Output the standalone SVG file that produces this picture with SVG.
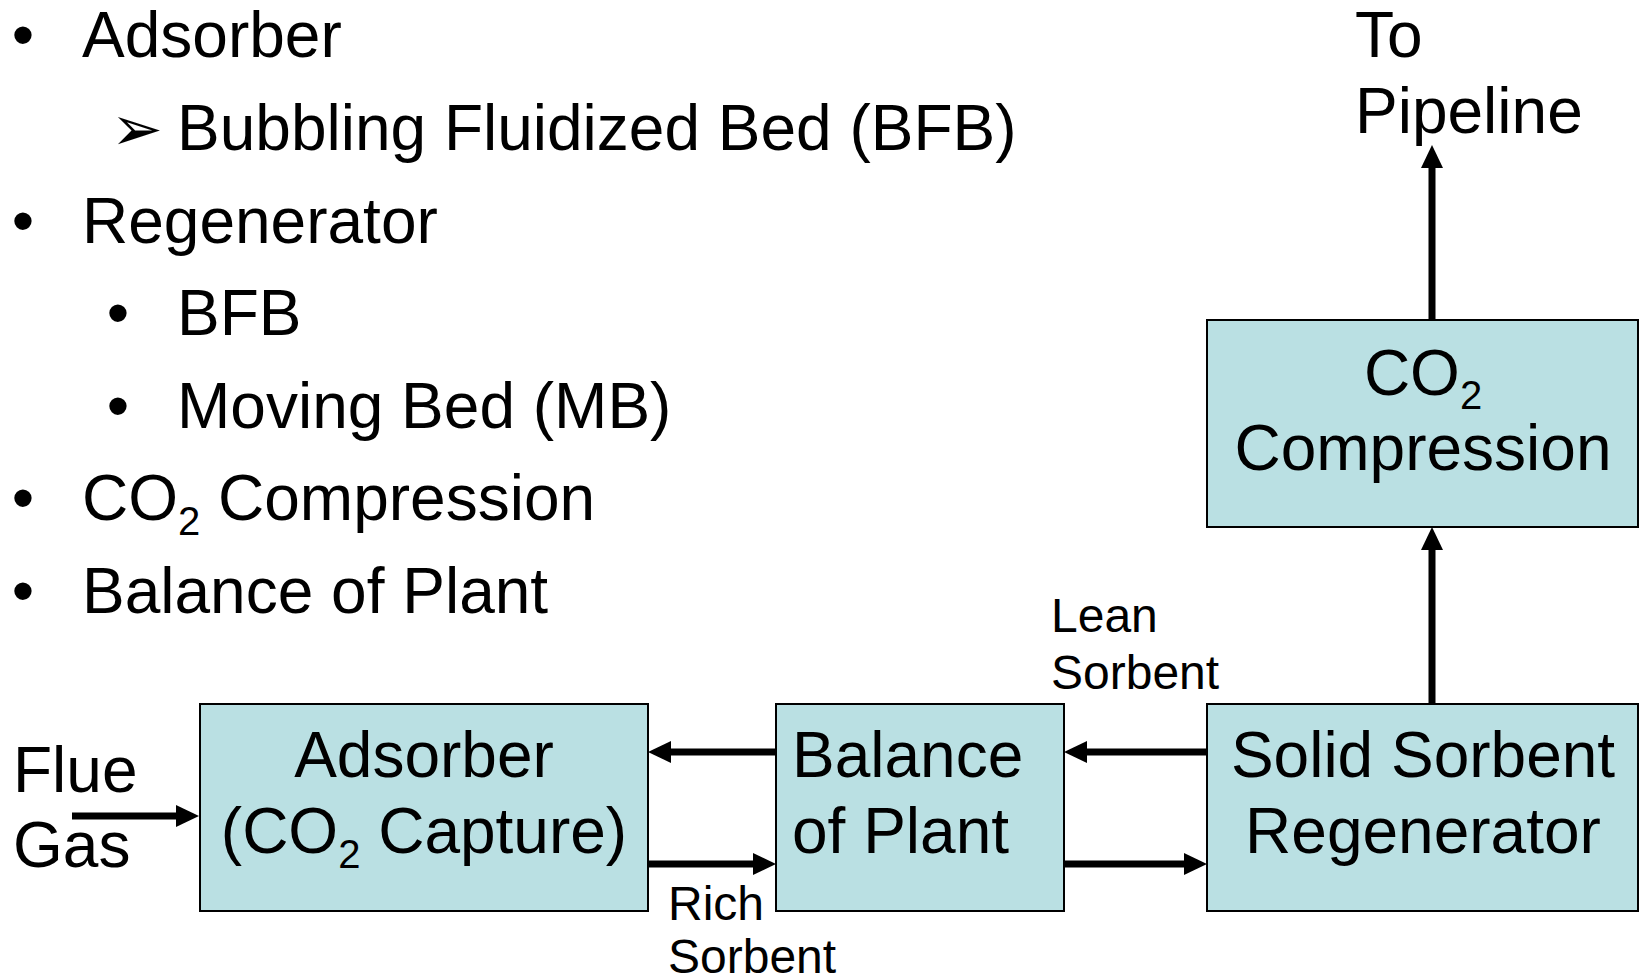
<svg xmlns="http://www.w3.org/2000/svg" width="1640" height="980" viewBox="0 0 1640 980">
  <style>
    text { font-family: "Liberation Sans", Arial, sans-serif; fill: #000; }
    .big { font-size: 64px; }
    .small { font-size: 48px; }
    .mid { text-anchor: middle; }
    .sub { font-size: 40px; }
    .box { fill: #BAE0E3; stroke: #000; stroke-width: 2; }
    .flow { fill: none; stroke: #000; stroke-width: 7; marker-end: url(#head); }
    .glyph { font-family: "DejaVu Sans", sans-serif; font-size: 62px; }
  </style>
  <defs>
    <marker id="head" markerUnits="userSpaceOnUse" markerWidth="24" markerHeight="22" refX="3" refY="11" orient="auto" overflow="visible">
      <path d="M0,0 L23,11 L0,22 Z" fill="#000"/>
    </marker>
  </defs>

  <rect width="1640" height="980" fill="#fff"/>

  <!-- bullet list -->
  <g id="outline">
    <text class="big mid" x="23" y="57">•</text>
    <text class="big" x="82" y="57">Adsorber</text>
    <text class="glyph" x="111" y="150">➢</text>
    <text class="big" x="177" y="150">Bubbling Fluidized Bed (BFB)</text>
    <text class="big mid" x="23" y="243">•</text>
    <text class="big" x="82" y="243">Regenerator</text>
    <text class="big mid" x="118" y="335">•</text>
    <text class="big" x="177" y="335">BFB</text>
    <text class="big mid" x="118" y="428">•</text>
    <text class="big" x="177" y="428">Moving Bed (MB)</text>
    <text class="big mid" x="23" y="520">•</text>
    <text class="big" x="82" y="520">CO<tspan class="sub" dy="15">2</tspan><tspan dy="-15"> Compression</tspan></text>
    <text class="big mid" x="23" y="613">•</text>
    <text class="big" x="82" y="613">Balance of Plant</text>
  </g>

  <!-- stream labels -->
  <g id="labels">
    <text class="big" x="13" y="792">Flue</text>
    <text class="big" x="13" y="867">Gas</text>
    <text class="small" x="1051" y="632">Lean</text>
    <text class="small" x="1051" y="689">Sorbent</text>
    <text class="small" x="668" y="920">Rich</text>
    <text class="small" x="668" y="973">Sorbent</text>
    <text class="big" x="1355" y="57">To</text>
    <text class="big" x="1355" y="133">Pipeline</text>
  </g>

  <!-- process blocks -->
  <g id="adsorber">
    <rect class="box" x="200" y="704" width="448" height="207"/>
    <text class="big mid" x="424" y="777">Adsorber</text>
    <text class="big mid" x="424" y="853">(CO<tspan class="sub" dy="15">2</tspan><tspan dy="-15"> Capture)</tspan></text>
  </g>
  <g id="balance-of-plant">
    <rect class="box" x="776" y="704" width="288" height="207"/>
    <text class="big" x="792" y="777">Balance</text>
    <text class="big" x="792" y="853">of Plant</text>
  </g>
  <g id="regenerator">
    <rect class="box" x="1207" y="704" width="431" height="207"/>
    <text class="big mid" x="1423" y="777">Solid Sorbent</text>
    <text class="big mid" x="1423" y="853">Regenerator</text>
  </g>
  <g id="co2-compression">
    <rect class="box" x="1207" y="320" width="431" height="207"/>
    <text class="big mid" x="1423" y="395">CO<tspan class="sub" dy="14">2</tspan></text>
    <text class="big mid" x="1423" y="470">Compression</text>
  </g>

  <!-- flow arrows -->
  <g id="connectors">
    <line class="flow" x1="72" y1="816" x2="179" y2="816"/>
    <line class="flow" x1="776" y1="752" x2="668" y2="752"/>
    <line class="flow" x1="648" y1="864" x2="756" y2="864"/>
    <line class="flow" x1="1207" y1="752" x2="1084" y2="752"/>
    <line class="flow" x1="1064" y1="864" x2="1187" y2="864"/>
    <line class="flow" x1="1432" y1="704" x2="1432" y2="547"/>
    <line class="flow" x1="1432" y1="320" x2="1432" y2="165"/>
  </g>
</svg>
